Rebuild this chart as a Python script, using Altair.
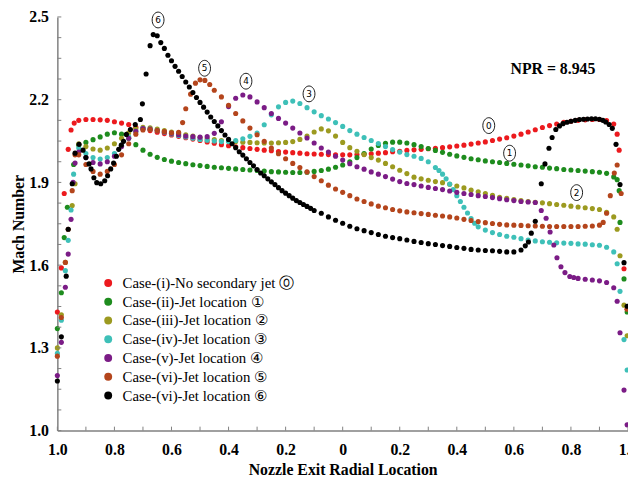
import altair as alt
import pandas as pd

SERIF = "Liberation Serif"

SERIES = [
    "Case-(i)-No secondary jet \u24ea",
    "Case-(ii)-Jet location  \u2460",
    "Case-(iii)-Jet location \u2461",
    "Case-(iv)-Jet location \u2462",
    "Case-(v)-Jet location  \u2463",
    "Case-(vi)-Jet location \u2464",
    "Case-(vi)-Jet location \u2465",
]
COLORS = ["#EC1A1E", "#1E8C1E", "#9C9A20", "#3EC0B8", "#7B1C86", "#B4451C", "#000000"]

X_LABELS = [-1.0, -0.8, -0.6, -0.4, -0.2, 0.0, 0.2, 0.4, 0.6, 0.8, 1.0]
X_TICKS = [-1.0, -0.9, -0.8, -0.7, -0.6, -0.5, -0.4, -0.3, -0.2, -0.1, 0.0,
           0.1, 0.2, 0.3, 0.4, 0.5, 0.6, 0.7, 0.8, 0.9, 1.0]
Y_LABELS = [1.0, 1.3, 1.6, 1.9, 2.2, 2.5]
Y_TICKS = [1.0, 1.075, 1.15, 1.225, 1.3, 1.375, 1.45, 1.525, 1.6, 1.675, 1.75,
           1.825, 1.9, 1.975, 2.05, 2.125, 2.2, 2.275, 2.35, 2.425, 2.5]

GRID = [-0.925, -0.9, -0.875, -0.85, -0.825, -0.8, -0.775, -0.75, -0.725, -0.7,
        -0.675, -0.65, -0.625, -0.6, -0.575, -0.55, -0.525, -0.5, -0.475, -0.45,
        -0.425, -0.4, -0.375, -0.35, -0.325, -0.3, -0.275, -0.25, -0.225, -0.2,
        -0.175, -0.15, -0.125, -0.1, -0.075, -0.05, -0.025, 0.0, 0.025, 0.05,
        0.075, 0.1, 0.125, 0.15, 0.175, 0.2, 0.225, 0.25, 0.275, 0.3,
        0.325, 0.35, 0.375, 0.4, 0.425, 0.45, 0.475, 0.5, 0.525, 0.55,
        0.575, 0.6, 0.625, 0.65, 0.675, 0.7, 0.725, 0.75, 0.775, 0.8,
        0.825, 0.85, 0.875, 0.9, 0.925, 0.95]

# Case (i) red
RED_LX = [-1.0, -0.986, -0.976, -0.962, -0.952, -0.941]
RED_LY = [1.43, 1.59, 1.86, 2.02, 2.09, 2.115]
RED_Y = [2.125, 2.128, 2.128, 2.127, 2.125, 2.12, 2.115, 2.11, 2.10, 2.095,
         2.088, 2.082, 2.077, 2.072, 2.067, 2.062, 2.057, 2.052, 2.047, 2.042,
         2.037, 2.033, 2.029, 2.026, 2.023, 2.02, 2.017, 2.015, 2.012, 2.01,
         2.008, 2.006, 2.004, 2.003, 2.002, 2.001, 2.0, 2.0, 2.0, 2.001,
         2.002, 2.004, 2.006, 2.008, 2.011, 2.013, 2.016, 2.018, 2.02, 2.022,
         2.024, 2.026, 2.029, 2.032, 2.035, 2.039, 2.043, 2.047, 2.052, 2.057,
         2.062, 2.068, 2.075, 2.083, 2.091, 2.099, 2.106, 2.112, 2.118, 2.122,
         2.125, 2.127, 2.128, 2.128, 2.124, 2.112]
RED_RX = [0.962, 0.969, 0.986, 0.997]
RED_RY = [2.075, 2.017, 1.587, 1.44]

# Case (ii) green
GRN_LX = [-1.0, -0.986, -0.976, -0.965, -0.943]
GRN_LY = [1.37, 1.50, 1.70, 1.81, 1.965]
GRN_Y = [2.035, 2.045, 2.055, 2.065, 2.075, 2.08, 2.075, 2.06, 2.037, 2.017,
         2.002, 1.991, 1.983, 1.977, 1.972, 1.968, 1.964, 1.961, 1.958, 1.955,
         1.953, 1.951, 1.949, 1.947, 1.945, 1.943, 1.941, 1.939, 1.938, 1.937,
         1.936, 1.936, 1.937, 1.94, 1.943, 1.948, 1.955, 1.963, 1.975, 1.99,
         2.005, 2.021, 2.034, 2.042, 2.046, 2.046, 2.043, 2.037, 2.03, 2.023,
         2.016, 2.009, 2.002, 1.996, 1.991, 1.986, 1.982, 1.978, 1.975, 1.972,
         1.969, 1.966, 1.963, 1.96, 1.957, 1.955, 1.952, 1.95, 1.947, 1.945,
         1.943, 1.941, 1.939, 1.937, 1.933, 1.92]
GRN_RX = [0.962, 0.969, 0.972, 0.986, 0.997]
GRN_RY = [1.91, 1.87, 1.755, 1.55, 1.43]

# Case (iii) olive
OLV_LX = [-1.0, -0.986, -0.972, -0.948, -0.938]
OLV_LY = [1.30, 1.42, 1.61, 1.816, 1.895]
OLV_Y = [2.04, 2.03, 2.021, 2.017, 2.025, 2.04, 2.06, 2.08, 2.094, 2.1,
         2.098, 2.093, 2.088, 2.083, 2.078, 2.073, 2.068, 2.063, 2.058, 2.055,
         2.052, 2.05, 2.048, 2.046, 2.045, 2.044, 2.043, 2.043, 2.044, 2.045,
         2.048, 2.056, 2.068, 2.083, 2.094, 2.087, 2.068, 2.045, 2.026, 2.013,
         2.001, 1.99, 1.981, 1.969, 1.957, 1.944, 1.932, 1.919, 1.913, 1.908,
         1.903, 1.899, 1.893, 1.887, 1.88, 1.872, 1.866, 1.86, 1.853, 1.846,
         1.842, 1.838, 1.834, 1.831, 1.828, 1.826, 1.823, 1.82, 1.817, 1.814,
         1.811, 1.808, 1.805, 1.802, 1.792, 1.775]
OLV_RX = [0.962, 0.972, 0.986, 0.997]
OLV_RY = [1.73, 1.634, 1.455, 1.344]

# Case (iv) cyan
CYN_LX = [-1.0, -0.986, -0.972, -0.962, -0.952, -0.943]
CYN_LY = [1.28, 1.40, 1.58, 1.69, 1.80, 1.93]
CYN_Y = [2.025, 2.005, 1.99, 1.985, 1.99, 2.005, 2.035, 2.065, 2.085, 2.095,
         2.093, 2.088, 2.082, 2.076, 2.07, 2.065, 2.06, 2.056, 2.053, 2.05,
         2.048, 2.048, 2.052, 2.058, 2.067, 2.079, 2.109, 2.145, 2.174, 2.19,
         2.195, 2.186, 2.171, 2.156, 2.142, 2.13, 2.117, 2.103, 2.088, 2.075,
         2.063, 2.052, 2.041, 2.03, 2.019, 2.01, 2.001, 1.995, 1.987, 1.975,
         1.954, 1.93, 1.894, 1.852, 1.81, 1.769, 1.739, 1.727, 1.718, 1.711,
         1.705, 1.701, 1.696, 1.691, 1.688, 1.685, 1.683, 1.681, 1.68, 1.679,
         1.677, 1.676, 1.674, 1.672, 1.665, 1.648]
CYN_EX = [0.3375, 0.3625, 0.3875, 0.4125, 0.4375, 0.4625]
CYN_EY = [1.943, 1.913, 1.874, 1.831, 1.789, 1.752]
CYN_RX = [0.962, 0.972, 0.986, 0.997]
CYN_RY = [1.605, 1.505, 1.33, 1.22]

# Case (v) purple
PUR_LX = [-1.0, -0.986, -0.972, -0.962, -0.952, -0.945, -0.938]
PUR_LY = [1.20, 1.32, 1.52, 1.64, 1.766, 1.90, 1.97]
PUR_Y = [2.01, 1.99, 1.972, 1.967, 1.975, 1.995, 2.03, 2.06, 2.085, 2.095,
         2.093, 2.088, 2.083, 2.078, 2.073, 2.068, 2.066, 2.064, 2.066, 2.078,
         2.12, 2.175, 2.205, 2.217, 2.21, 2.192, 2.171, 2.15, 2.132, 2.115,
         2.097, 2.079, 2.061, 2.043, 2.025, 2.01, 1.995, 1.981, 1.968, 1.957,
         1.948, 1.938, 1.93, 1.921, 1.912, 1.903, 1.896, 1.892, 1.887, 1.882,
         1.878, 1.874, 1.869, 1.864, 1.86, 1.856, 1.852, 1.849, 1.845, 1.841,
         1.837, 1.834, 1.831, 1.829, 1.827]
PUR_RX = [0.696, 0.713, 0.727, 0.74, 0.751, 0.765, 0.779, 0.796, 0.81, 0.825,
          0.85, 0.875, 0.9, 0.925, 0.95, 0.962, 0.972, 0.986, 0.997]
PUR_RY = [1.798, 1.77, 1.72, 1.673, 1.627, 1.594, 1.573, 1.559, 1.555, 1.552,
          1.549, 1.546, 1.543, 1.537, 1.518, 1.469, 1.355, 1.147, 1.021]

# Case (vi) brown, jet location 5
BRN_LX = [-1.0, -0.986, -0.972, -0.962, -0.948, -0.938]
BRN_LY = [1.27, 1.41, 1.61, 1.73, 1.87, 2.0]
BRN_Y1 = [2.0, 1.965, 1.94, 1.93, 1.94, 1.965, 2.0, 2.04, 2.075, 2.09,
          2.092, 2.088, 2.084, 2.08, 2.082]
BRN_PX = [-0.561, -0.55, -0.533, -0.516, -0.5, -0.483, -0.466]
BRN_PY = [2.117, 2.167, 2.22, 2.26, 2.272, 2.27, 2.255]
BRN_Y2 = [2.234, 2.21, 2.18, 2.15, 2.123, 2.097, 2.073, 2.049, 2.025, 2.004,
          1.986, 1.969, 1.954, 1.938, 1.921, 1.906, 1.89, 1.876, 1.864, 1.852,
          1.84, 1.831, 1.822, 1.814, 1.808, 1.802, 1.797, 1.793, 1.79, 1.787,
          1.784, 1.781, 1.778, 1.775, 1.771, 1.766, 1.762, 1.758, 1.754, 1.751,
          1.748, 1.746, 1.745, 1.744, 1.743, 1.742, 1.741, 1.74, 1.74, 1.74,
          1.74, 1.74, 1.741, 1.742, 1.745]
BRN_RX = [0.913, 0.925, 0.938, 0.952, 0.962, 0.976, 0.997]
BRN_RY = [1.755, 1.788, 1.852, 1.934, 1.963, 1.86, 1.44]

# Case (vi) black, jet location 6
BLK_X1 = [-1.0, -0.986, -0.969, -0.962, -0.948, -0.938, -0.924, -0.91, -0.9, -0.889,
          -0.882, -0.872, -0.862, -0.848, -0.834, -0.824, -0.813, -0.803, -0.793, -0.785,
          -0.776, -0.768, -0.758, -0.744, -0.727, -0.709, -0.702, -0.689, -0.675, -0.664,
          -0.65, -0.6375]
BLK_Y1 = [1.18, 1.34, 1.56, 1.73, 1.895, 2.006, 2.038, 2.017, 1.99, 1.967,
          1.949, 1.917, 1.899, 1.895, 1.906, 1.924, 1.949, 1.97, 1.995, 2.02,
          2.035, 2.049, 2.074, 2.092, 2.11, 2.128, 2.185, 2.293, 2.396, 2.436,
          2.432, 2.407]
BLK_X2 = [-0.625, -0.6125, -0.6, -0.5875, -0.575, -0.5625, -0.55, -0.5375, -0.525, -0.5125,
          -0.5, -0.4875, -0.475, -0.4625, -0.45, -0.4375, -0.425, -0.4125, -0.4, -0.3875,
          -0.375, -0.3625, -0.35, -0.3375, -0.325, -0.3125, -0.3, -0.2875, -0.275, -0.2625,
          -0.25, -0.2375, -0.225, -0.2125, -0.2, -0.1875, -0.175, -0.1625, -0.15, -0.1375,
          -0.125, -0.1125, -0.1]
BLK_Y2 = [2.386, 2.361, 2.341, 2.321, 2.303, 2.284, 2.264, 2.246, 2.226, 2.208,
          2.19, 2.173, 2.155, 2.137, 2.121, 2.105, 2.088, 2.072, 2.056, 2.04,
          2.026, 2.011, 1.999, 1.986, 1.972, 1.96, 1.947, 1.934, 1.924, 1.913,
          1.902, 1.892, 1.881, 1.87, 1.861, 1.852, 1.843, 1.834, 1.827, 1.82,
          1.813, 1.806, 1.798]
BLK_X3 = [-0.075, -0.05, -0.025, 0.0, 0.025, 0.05, 0.075, 0.1, 0.125, 0.15,
          0.175, 0.2, 0.225, 0.25, 0.275, 0.3, 0.325, 0.35, 0.375, 0.4,
          0.425, 0.45, 0.475, 0.5, 0.525, 0.55, 0.575, 0.6, 0.625, 0.64]
BLK_Y3 = [1.788, 1.775, 1.763, 1.752, 1.741, 1.732, 1.725, 1.718, 1.711, 1.705,
          1.7, 1.696, 1.691, 1.686, 1.682, 1.678, 1.675, 1.671, 1.668, 1.664,
          1.661, 1.657, 1.655, 1.653, 1.652, 1.65, 1.648, 1.648, 1.655, 1.67]
BLK_X4 = [0.651, 0.661, 0.675, 0.696, 0.709, 0.723, 0.734, 0.747, 0.76, 0.772,
          0.786, 0.8, 0.815, 0.83, 0.844, 0.858, 0.872, 0.886, 0.9, 0.912,
          0.922, 0.934, 0.945, 0.958, 0.972, 0.986, 0.997]
BLK_Y4 = [1.684, 1.716, 1.759, 1.895, 1.967, 2.024, 2.063, 2.092, 2.105, 2.113,
          2.118, 2.122, 2.125, 2.128, 2.129, 2.13, 2.131, 2.131, 2.129, 2.125,
          2.119, 2.11, 2.096, 2.038, 1.892, 1.609, 1.451]

# circled curve labels
ANN_TEXT = ["0", "1", "2", "3", "4", "5", "6"]
ANN_X = [0.512, 0.585, 0.82, -0.118, -0.339, -0.484, -0.647]
ANN_Y = [2.106, 2.006, 1.863, 2.221, 2.267, 2.314, 2.489]
NPR_TEXT = ["NPR = 8.945"]
NPR_X = [0.737]
NPR_Y = [2.31]

series_xy = [
    (RED_LX + GRID + RED_RX, RED_LY + RED_Y + RED_RY),
    (GRN_LX + GRID + GRN_RX, GRN_LY + GRN_Y + GRN_RY),
    (OLV_LX + GRID + OLV_RX, OLV_LY + OLV_Y + OLV_RY),
    (CYN_LX + GRID + CYN_EX + CYN_RX, CYN_LY + CYN_Y + CYN_EY + CYN_RY),
    (PUR_LX + GRID[:65] + PUR_RX, PUR_LY + PUR_Y + PUR_RY),
    (BRN_LX + GRID[:15] + BRN_PX + GRID[19:74] + BRN_RX,
     BRN_LY + BRN_Y1 + BRN_PY + BRN_Y2 + BRN_RY),
    (BLK_X1 + BLK_X2 + BLK_X3 + BLK_X4, BLK_Y1 + BLK_Y2 + BLK_Y3 + BLK_Y4),
]
rows = []
for name, (xs, ys) in zip(SERIES, series_xy):
    assert len(xs) == len(ys), (name, len(xs), len(ys))
    for xv, yv in zip(xs, ys):
        rows.append({"x": xv, "y": yv, "series": name})
df = pd.DataFrame(rows)

W, H = 578, 419
xscale = alt.Scale(domain=[-1.0, 1.0], nice=False, zero=False)
yscale = alt.Scale(domain=[1.0, 2.5], nice=False, zero=False)

xaxis = alt.Axis(
    values=X_LABELS,
    labelExpr="datum.value == 0 ? '0' : format(abs(datum.value), '.1f')",
    title="Nozzle Exit Radial Location", ticks=False, tickSize=0, grid=False,
    domainColor="#808080", domainWidth=1.5, labelFont=SERIF, labelFontSize=16,
    labelFontWeight="bold", labelColor="black", labelPadding=11, labelFlush=False,
    labelOverlap=False, titleFont=SERIF, titleFontSize=16, titleFontWeight="bold",
    titleColor="black", titlePadding=4,
)
yaxis = alt.Axis(
    values=Y_LABELS, format=".1f", title="Mach Number", ticks=False, tickSize=0,
    grid=False, domainColor="#808080", domainWidth=1.5, labelFont=SERIF,
    labelFontSize=16, labelFontWeight="bold", labelColor="black", labelPadding=9,
    labelFlush=False, labelOverlap=False, titleFont=SERIF, titleFontSize=16,
    titleFontWeight="bold", titleColor="black", titlePadding=2,
)

points = alt.Chart(df).mark_circle(size=27, opacity=1).encode(
    x=alt.X("x:Q", scale=xscale, axis=xaxis),
    y=alt.Y("y:Q", scale=yscale, axis=yaxis),
    color=alt.Color(
        "series:N",
        scale=alt.Scale(domain=SERIES, range=COLORS),
        sort=SERIES,
        legend=alt.Legend(
            orient="none", legendX=44, legendY=262, title=None,
            symbolType="circle", symbolSize=64, symbolStrokeWidth=0,
            symbolOpacity=1, labelFont=SERIF, labelFontSize=15,
            labelColor="black", rowPadding=3, padding=0, labelOffset=7,
            labelLimit=400,
        ),
    ),
)

xt = alt.Chart(pd.DataFrame({"x": X_TICKS})).mark_rule(
    color="#808080", strokeWidth=1
).encode(x="x:Q", y=alt.value(H - 4), y2=alt.value(H))

yt = alt.Chart(pd.DataFrame({"y": Y_TICKS})).mark_rule(
    color="#808080", strokeWidth=1
).encode(y="y:Q", x=alt.value(0), x2=alt.value(4))

ann_df = pd.DataFrame({"x": ANN_X, "y": ANN_Y, "t": ANN_TEXT})
ellipse = "M-0.75,0A0.75,1,0,1,1,0.75,0A0.75,1,0,1,1,-0.75,0Z"
ann_c = alt.Chart(ann_df).mark_point(
    shape=ellipse, size=256, filled=False, color="black", strokeWidth=0.9, opacity=1
).encode(x="x:Q", y="y:Q")
ann_t = alt.Chart(ann_df).mark_text(
    font="DejaVu Sans", fontSize=9, color="black", align="center", baseline="middle"
).encode(x="x:Q", y="y:Q", text="t:N")

npr = alt.Chart(pd.DataFrame({"x": NPR_X, "y": NPR_Y, "t": NPR_TEXT})).mark_text(
    font=SERIF, fontSize=16, fontWeight="bold", color="black", align="center",
    baseline="middle"
).encode(x="x:Q", y="y:Q", text="t:N")

chart = alt.layer(points, xt, yt, ann_c, ann_t, npr).properties(
    width=W, height=H,
    padding={"left": 50, "top": 6, "right": 0, "bottom": 50},
    autosize=alt.AutoSizeParams(type="none"),
    background="white",
).configure_view(stroke=None)

chart.save("out.html", embed_options={"renderer": "svg", "actions": False})
